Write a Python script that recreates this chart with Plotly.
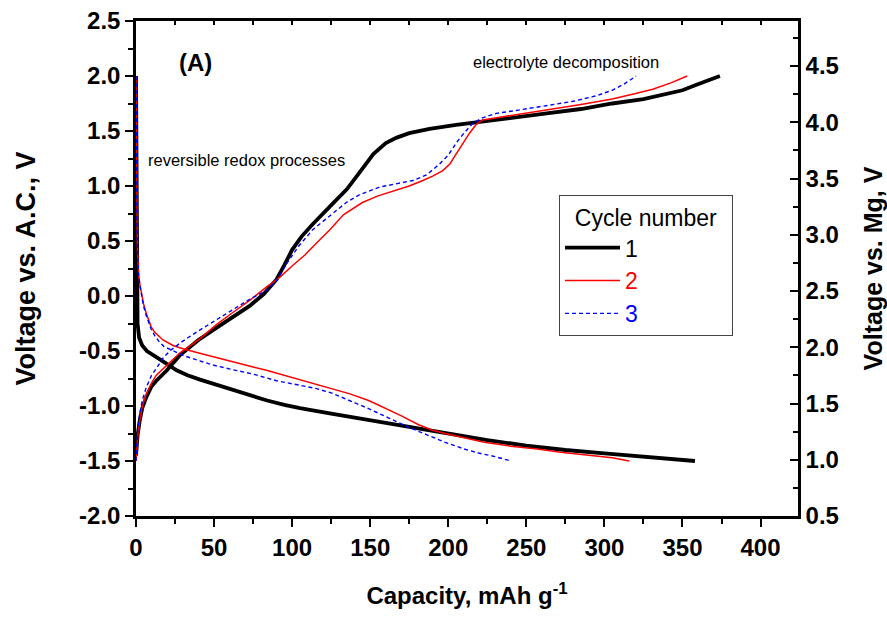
import plotly.graph_objects as go

# ---- data ----
cap1_dis = [0, 0.2, 0.5, 1.0, 2.0, 4, 7, 11, 15, 20, 26, 33, 41, 50, 62, 75, 84, 95, 105, 125, 150, 175, 200, 225, 250, 275, 300, 325, 345, 358]
v1_dis = [2.0, 1.0, 0.0, -0.25, -0.38, -0.45, -0.50, -0.54, -0.58, -0.62, -0.675, -0.72, -0.76, -0.80, -0.86, -0.91, -0.95, -0.99, -1.02, -1.07, -1.13, -1.19, -1.25, -1.31, -1.36, -1.40, -1.43, -1.46, -1.48, -1.50]

cap1_chg = [0, 0.5, 1, 2.4, 4, 6.6, 10, 13, 19.5, 28, 40, 51.5, 62, 72.8, 82, 90, 95, 100, 106, 113, 126, 135, 143, 152, 160, 167, 175, 188, 205, 220, 240, 263, 285, 305, 325, 337, 350, 359, 367, 374]
v1_chg = [-1.45, -1.36, -1.27, -1.13, -1.02, -0.92, -0.82, -0.77, -0.68, -0.54, -0.40, -0.29, -0.19, -0.09, 0.02, 0.15, 0.28, 0.42, 0.54, 0.65, 0.84, 0.97, 1.12, 1.29, 1.39, 1.44, 1.48, 1.52, 1.555, 1.58, 1.62, 1.66, 1.70, 1.75, 1.79, 1.83, 1.87, 1.92, 1.96, 2.0]

cap2_dis = [0, 0.3, 0.8, 1.0, 1.6, 2.5, 3.5, 4.8, 6.6, 9.7, 12, 14, 17.3, 23.7, 30, 40.8, 50, 62, 75, 83.5, 95, 105, 115, 125, 137, 149, 160, 170, 181, 190, 198, 210, 223, 240, 257, 272, 290, 305, 316]
v2_dis = [2.0, 1.0, 0.5, 0.4, 0.2, 0.1, 0.02, -0.07, -0.16, -0.28, -0.33, -0.36, -0.40, -0.45, -0.48, -0.52, -0.555, -0.60, -0.645, -0.675, -0.72, -0.765, -0.80, -0.84, -0.89, -0.95, -1.02, -1.09, -1.17, -1.22, -1.25, -1.29, -1.33, -1.365, -1.39, -1.42, -1.45, -1.47, -1.50]

cap2_chg = [0, 0.5, 1.2, 2.4, 4, 6.6, 10, 13, 19.5, 28, 40.8, 51.5, 62, 72.8, 83.5, 92, 100.5, 108, 115.5, 124, 133, 145, 155, 166.7, 175, 183.7, 190, 196.5, 201, 205, 209, 213.6, 218, 222, 235, 250, 262.7, 285, 305, 320, 331, 343, 353]
v2_chg = [-1.5, -1.38, -1.26, -1.13, -1.0, -0.89, -0.79, -0.72, -0.63, -0.52, -0.39, -0.26, -0.15, -0.04, 0.08, 0.17, 0.28, 0.37, 0.48, 0.60, 0.74, 0.85, 0.91, 0.96, 1.0, 1.05, 1.09, 1.14, 1.20, 1.29, 1.38, 1.48, 1.56, 1.60, 1.63, 1.66, 1.69, 1.74, 1.79, 1.84, 1.88, 1.94, 2.0]

cap3_dis = [0, 0.3, 0.8, 1.0, 1.6, 2.5, 3.5, 4.8, 6.6, 9.7, 12, 15, 18, 22.7, 30, 40.8, 50, 62, 75, 90, 105, 115, 125, 137, 150, 162, 174, 186, 198, 210, 220, 230, 240]
v3_dis = [2.0, 1.0, 0.5, 0.4, 0.2, 0.1, 0.0, -0.09, -0.18, -0.30, -0.36, -0.42, -0.46, -0.49, -0.54, -0.59, -0.63, -0.67, -0.71, -0.77, -0.81, -0.84, -0.88, -0.95, -1.03, -1.11, -1.19, -1.26, -1.33, -1.39, -1.43, -1.46, -1.50]

cap3_chg = [0, 0.5, 1.2, 2.4, 4, 6.6, 10, 13, 17, 21.6, 30, 40.8, 51, 62, 72.8, 83.5, 90, 96.3, 104, 113, 117.5, 126, 134.7, 143, 156, 167, 177.3, 186, 194.4, 200, 205, 210, 215.7, 222, 230.7, 245, 262.7, 280, 294.7, 305, 313, 320.3]
v3_chg = [-1.5, -1.35, -1.2, -1.07, -0.95, -0.83, -0.72, -0.66, -0.57, -0.50, -0.41, -0.31, -0.22, -0.13, -0.03, 0.05, 0.14, 0.29, 0.45, 0.60, 0.65, 0.75, 0.85, 0.92, 0.99, 1.02, 1.05, 1.10, 1.20, 1.28, 1.39, 1.48, 1.57, 1.62, 1.66, 1.69, 1.73, 1.77, 1.82, 1.87, 1.93, 2.0]

cycle_names = ["1", "2", "3"]
cycle_colors = ["black", "red", "blue"]

x_ticks = [0, 50, 100, 150, 200, 250, 300, 350, 400]
yl_ticks = [-2.0, -1.5, -1.0, -0.5, 0.0, 0.5, 1.0, 1.5, 2.0, 2.5]
yr_ticks = [0.5, 1.0, 1.5, 2.0, 2.5, 3.0, 3.5, 4.0, 4.5]

FONT = "Liberation Sans"

fig = go.Figure()

styles = [dict(color="black", width=3.8),
          dict(color="red", width=1.5),
          dict(color="blue", width=1.4, dash="4px,3px")]
curves = [(cap1_dis, v1_dis, cap1_chg, v1_chg),
          (cap2_dis, v2_dis, cap2_chg, v2_chg),
          (cap3_dis, v3_dis, cap3_chg, v3_chg)]

for i, (xd, yd, xc, yc) in enumerate(curves):
    label = f"<span style='color:{cycle_colors[i]}'>{cycle_names[i]}</span>"
    fig.add_trace(go.Scatter(x=xd, y=yd, mode="lines", line=dict(shape="linear", **styles[i]),
                             name=label, legendgroup=cycle_names[i], showlegend=True))
    fig.add_trace(go.Scatter(x=xc, y=yc, mode="lines", line=dict(shape="linear", **styles[i]),
                             name=label, legendgroup=cycle_names[i], showlegend=False))

# dummy traces to activate secondary axes
fig.add_trace(go.Scatter(x=[None], y=[None], yaxis="y2", showlegend=False, hoverinfo="skip"))
fig.add_trace(go.Scatter(x=[None], y=[None], xaxis="x2", showlegend=False, hoverinfo="skip"))

tickfont = dict(family=FONT, size=24, color="black", weight="bold")

fig.update_layout(
    width=887, height=617,
    margin=dict(l=136, r=89, t=21, b=101, autoexpand=False),
    paper_bgcolor="white", plot_bgcolor="white",
    font=dict(family=FONT, color="black"),
    xaxis=dict(range=[0, 424], tickvals=x_ticks, ticktext=[str(v) for v in x_ticks],
               showgrid=False, zeroline=False, showline=True, linewidth=2.5, linecolor="black",
               ticks="outside", ticklen=8, tickwidth=2, tickcolor="black", automargin=False,
               minor=dict(dtick=25, tick0=0, ticks="outside", ticklen=5, tickwidth=2, tickcolor="black", showgrid=False),
               tickfont=tickfont,
               title=dict(text="Capacity, mAh g<sup>-1</sup>", standoff=28,
                          font=dict(family=FONT, size=24, color="black", weight="bold"))),
    xaxis2=dict(range=[0, 424], overlaying="x", side="top", showgrid=False, zeroline=False,
                showline=True, linewidth=2.5, linecolor="black", showticklabels=False, automargin=False,
                ticks="inside", dtick=25, tick0=0, ticklen=4, tickwidth=1.5, tickcolor="black"),
    yaxis=dict(range=[-2.0, 2.5], tickvals=yl_ticks, ticktext=[f"{v:.1f}" for v in yl_ticks],
               showgrid=False, zeroline=False, showline=True, linewidth=2.5, linecolor="black",
               ticks="outside", ticklen=8, tickwidth=2, tickcolor="black", automargin=False,
               minor=dict(dtick=0.25, tick0=0, ticks="outside", ticklen=5, tickwidth=2, tickcolor="black", showgrid=False),
               tickfont=tickfont,
               title=dict(text="Voltage vs. A.C., V", standoff=36,
                          font=dict(family=FONT, size=27, color="black", weight="bold"))),
    yaxis2=dict(range=[0.5, 4.9], overlaying="y", side="right", tickvals=yr_ticks,
                ticktext=[f"{v:.1f}" for v in yr_ticks],
                showgrid=False, zeroline=False, showline=True, linewidth=2.5, linecolor="black",
                ticks="inside", ticklen=8, tickwidth=2, tickcolor="black", automargin=False,
                minor=dict(dtick=0.25, tick0=0.5, ticks="inside", ticklen=5, tickwidth=2, tickcolor="black", showgrid=False),
                tickfont=tickfont,
                title=dict(text="Voltage vs. Mg, V", standoff=28,
                           font=dict(family=FONT, size=25, color="black", weight="bold"))),
    legend=dict(x=0.639, y=0.648, xanchor="left", yanchor="top",
                bgcolor="white", bordercolor="#444", borderwidth=1,
                font=dict(family=FONT, size=23, color="black"),
                title=dict(text="&nbsp;&nbsp;Cycle number&nbsp;&nbsp;", font=dict(family=FONT, size=23, color="black")),
                itemwidth=55, tracegroupgap=0),
    showlegend=True,
)

fig.add_annotation(x=38, y=2.125, xref="x", yref="y", text="<b>(A)</b>", showarrow=False,
                   font=dict(family=FONT, size=24, color="black"))
fig.add_annotation(x=6.7, y=1.234, xref="x", yref="y", text="reversible redox processes", showarrow=False,
                   xanchor="left", font=dict(family=FONT, size=16.5, color="black"))
fig.add_annotation(x=214.7, y=2.125, xref="x", yref="y", text="electrolyte decomposition", showarrow=False,
                   xanchor="left", font=dict(family=FONT, size=16.5, color="black"))

fig.write_html("out.html")
